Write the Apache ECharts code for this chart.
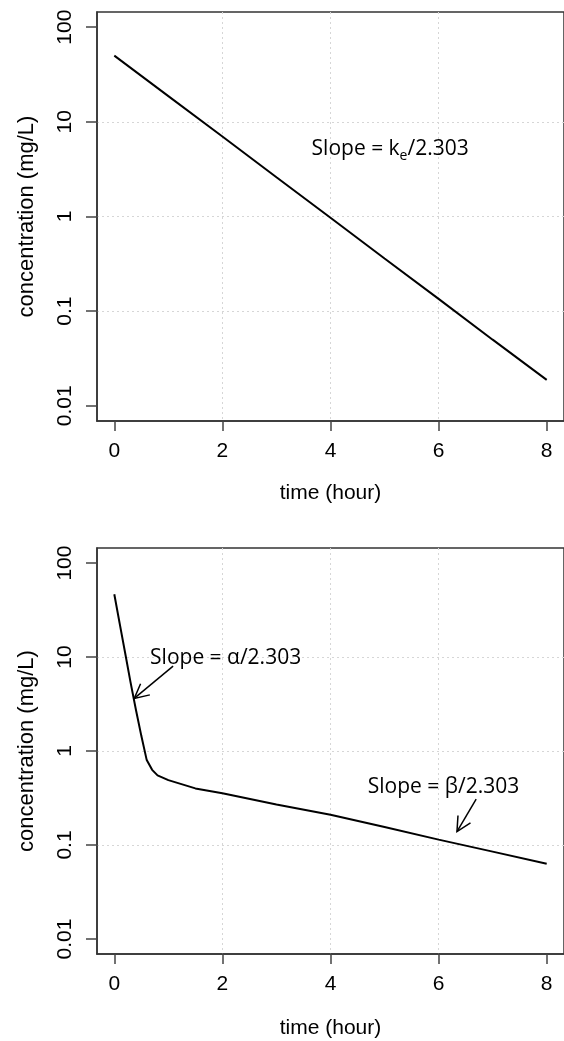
<!DOCTYPE html>
<html><head><meta charset="utf-8">
<script src="https://cdn.jsdelivr.net/npm/echarts@6/dist/echarts.min.js"></script>
<style>html,body{margin:0;padding:0;background:#fff}#c{width:564px;height:1041px}</style>
</head><body><div id="c"></div>
<script>
// ---- data ----
const timeTop = [0, 1, 2, 3, 4, 5, 6, 7, 8];
const concTop = [50, 18.7, 7.0, 2.6, 0.97, 0.36, 0.135, 0.05, 0.0188];
const timeBottom = [0, 0.1, 0.2, 0.3, 0.4, 0.5, 0.6, 0.7, 0.8, 1.0, 1.5, 2, 3, 4, 5, 6, 7, 8];
const concBottom = [46.5, 22.7, 11.1, 5.4, 2.75, 1.45, 0.8, 0.63, 0.55, 0.49, 0.40, 0.356, 0.27, 0.21, 0.155, 0.114, 0.085, 0.063];
const xTicks = [0, 2, 4, 6, 8];
const yTicks = [0.01, 0.1, 1, 10, 100];
const yTickLabels = ['0.01', '0.1', '1', '10', '100'];
const xTitle = 'time (hour)';
const yTitle = 'concentration (mg/L)';
const noteTop = 'Slope = k{sub|e}/2.303';
const noteAlpha = 'Slope = \u03b1/2.303';
const noteBeta = 'Slope = \u03b2/2.303';

// ---- chart ----
const FONT = 'Liberation Sans, Arial, sans-serif';
const NOTE_FONT = 'Open Sans, sans-serif';
const chart = echarts.init(document.getElementById('c'), null, {renderer: 'canvas'});

function makeX(gridIndex, nameGap) {
  return {
    type: 'value', gridIndex, min: -0.32, max: 8.32, position: 'bottom',
    name: xTitle, nameLocation: 'middle', nameGap,
    nameTextStyle: {fontSize: 21, color: '#000', fontFamily: FONT},
    axisLine: {show: true, onZero: false, lineStyle: {color: '#333', width: 1.5}},
    axisTick: {show: true, inside: false, length: 10, customValues: xTicks, lineStyle: {color: '#444', width: 1.5}},
    axisLabel: {customValues: xTicks, margin: 20, fontSize: 21, color: '#000', fontFamily: FONT},
    splitLine: {show: true, showMinLine: false, showMaxLine: false, lineStyle: {color: '#d6d6d6', type: [2, 3], width: 1}}
  };
}
function makeY(gridIndex) {
  return {
    type: 'log', logBase: 10, gridIndex, min: Math.pow(10, -2.16), max: Math.pow(10, 2.16), position: 'left',
    name: yTitle, nameLocation: 'middle', nameGap: 59, nameRotate: 90,
    nameTextStyle: {fontSize: 22, color: '#000', fontFamily: FONT},
    axisLine: {show: true, onZero: false, lineStyle: {color: '#333', width: 1.5}},
    axisTick: {show: true, inside: false, length: 11, customValues: yTicks, lineStyle: {color: '#444', width: 1.5}},
    axisLabel: {
      customValues: yTicks, rotate: 90, margin: 21, fontSize: 21, color: '#000', fontFamily: FONT,
      formatter: function (v) {
        let best = 0, bd = Infinity;
        yTicks.forEach((t, i) => { const d = Math.abs(Math.log10(v) - Math.log10(t)); if (d < bd) { bd = d; best = i; } });
        return yTickLabels[best];
      }
    },
    splitLine: {show: true, showMinLine: false, showMaxLine: false, lineStyle: {color: '#d6d6d6', type: [2, 3], width: 1}}
  };
}

const option = {
  animation: false,
  backgroundColor: '#fff',
  textStyle: {fontFamily: FONT},
  grid: [
    {left: 97, top: 12, width: 475, height: 409, show: true, borderColor: '#333', borderWidth: 1.5, backgroundColor: 'transparent'},
    {left: 97, top: 548, width: 475, height: 406, show: true, borderColor: '#333', borderWidth: 1.5, backgroundColor: 'transparent'}
  ],
  xAxis: [makeX(0, 62), makeX(1, 64)],
  yAxis: [makeY(0), makeY(1)],
  series: [
    {type: 'line', xAxisIndex: 0, yAxisIndex: 0, showSymbol: false, silent: true,
     lineStyle: {color: '#000', width: 2}, data: timeTop.map((t, i) => [t, concTop[i]])},
    {type: 'line', xAxisIndex: 1, yAxisIndex: 1, showSymbol: false, silent: true,
     lineStyle: {color: '#000', width: 2}, data: timeBottom.map((t, i) => [t, concBottom[i]])}
  ]
};
chart.setOption(option);

// ---- annotations (anchored in data coordinates) ----
function px(g, t, c) { return chart.convertToPixel({gridIndex: g}, [t, c]); }
function noteText(p, text) {
  return {
    type: 'text', x: p[0], y: p[1], z: 10,
    style: {
      text, fill: '#000', fontSize: 21, fontFamily: NOTE_FONT, align: 'left', verticalAlign: 'middle',
      rich: {sub: {fontSize: 14, fontFamily: NOTE_FONT, fill: '#000', padding: [14, 0, 0, 0]}}
    }
  };
}
function arrow(tail, head) {
  const dx = tail[0] - head[0], dy = tail[1] - head[1];
  const L = Math.hypot(dx, dy), ux = dx / L, uy = dy / L;
  const a = 27 * Math.PI / 180, wl = 16;
  const w1 = [head[0] + wl * (ux * Math.cos(a) - uy * Math.sin(a)), head[1] + wl * (ux * Math.sin(a) + uy * Math.cos(a))];
  const w2 = [head[0] + wl * (ux * Math.cos(-a) - uy * Math.sin(-a)), head[1] + wl * (ux * Math.sin(-a) + uy * Math.cos(-a))];
  const ls = {stroke: '#000', lineWidth: 1.5};
  return [
    {type: 'polyline', z: 10, shape: {points: [tail, head]}, style: ls},
    {type: 'polyline', z: 10, shape: {points: [w1, head, w2]}, style: ls}
  ];
}
const graphics = [
  noteText(px(0, 3.65, 5.15), noteTop),
  noteText(px(1, 0.662, 9.73), noteAlpha),
  noteText(px(1, 4.69, 0.415), noteBeta)
].concat(
  arrow(px(1, 1.088, 8.0), px(1, 0.369, 3.63)),
  arrow(px(1, 6.695, 0.308), px(1, 6.34, 0.139))
);
chart.setOption({graphic: graphics});
</script>
</body></html>
